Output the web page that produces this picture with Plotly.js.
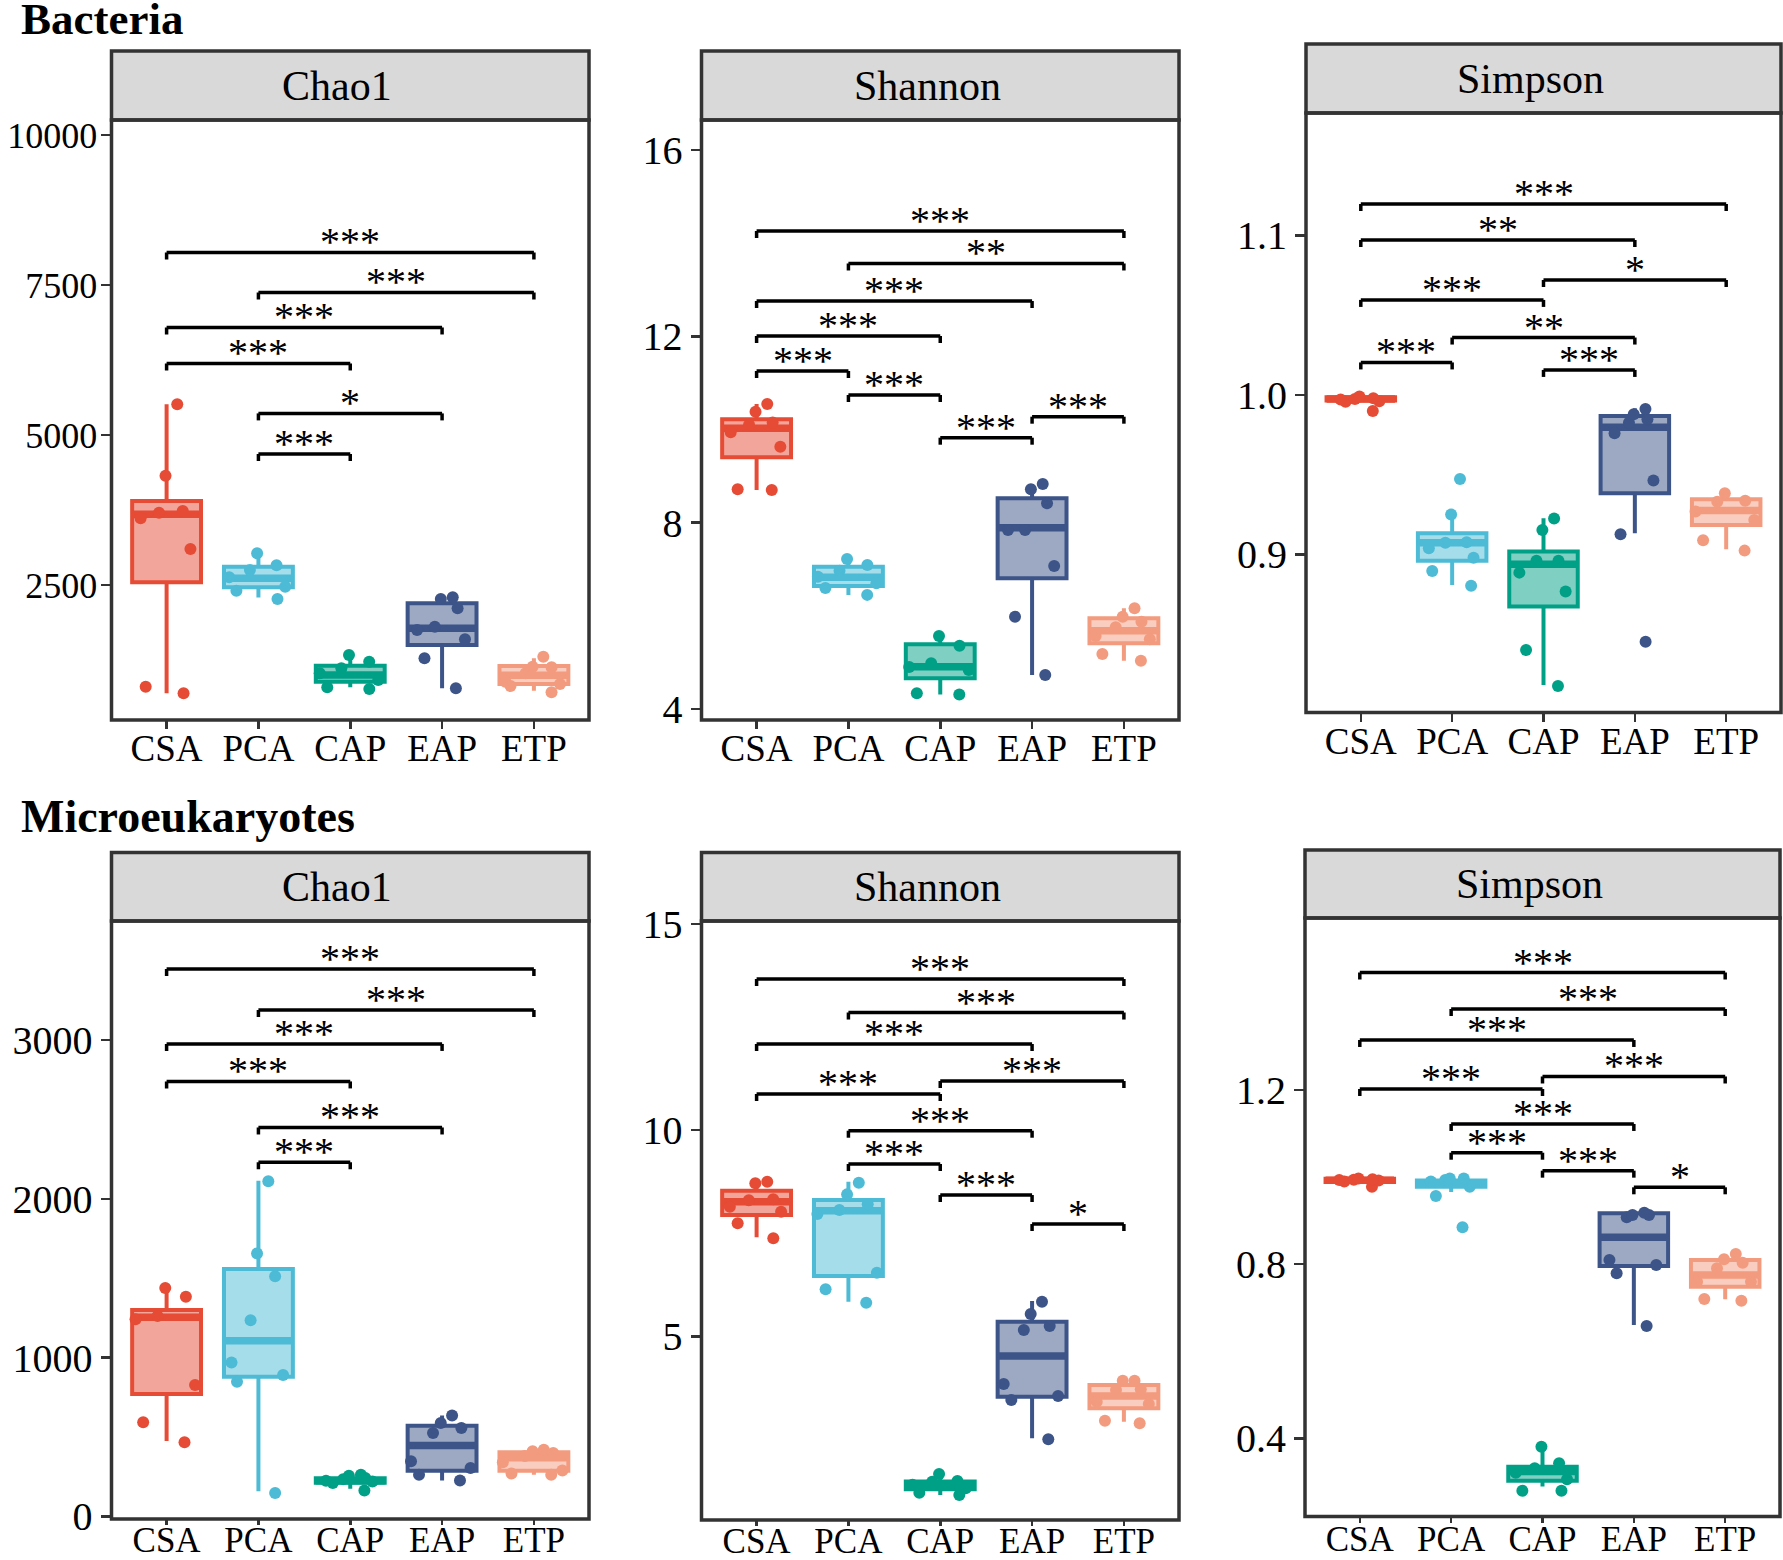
<!DOCTYPE html>
<html>
<head>
<meta charset="utf-8">
<script src="https://cdn.plot.ly/plotly-3.0.1.min.js"></script>
<style>html,body{margin:0;padding:0;background:#fff}</style>
</head>
<body>
<div id="chart" style="width:1783px;height:1560px"></div>
<script>
// ---------------- data ----------------
const groups = ['CSA', 'PCA', 'CAP', 'EAP', 'ETP'];
const groupColors = ['#E64B35', '#4DBBD5', '#00A087', '#3C5488', '#F39B7F'];

// Bacteria - Chao1 : sample points per group (CSA, PCA, CAP, EAP, ETP)
const bacChao1Points = [
  [5511, 4322, 3733, 3611, 3705, 3100, 806, 694],
  [3028, 2828, 2750, 2628, 2472, 2405, 2267],
  [1333, 1222, 1111, 1028, 917, 794, 767],
  [2294, 2267, 2111, 1806, 1750, 1594, 1278, 778],
  [1306, 1139, 1128, 1028, 889, 850, 817, 711]
];
// box statistics per group: [q1, median, q3, lower whisker, upper whisker]
const bacChao1Stats = [
  [2544, 3678, 3900, 694, 5511],
  [2461, 2611, 2805, 2290, 3028],
  [889, 1000, 1155, 795, 1333],
  [1500, 1778, 2194, 778, 2294],
  [850, 994, 1150, 739, 1278]
];
// significance brackets: [group A, group B, height, label]
const bacChao1Sig = [
  ['CSA', 'ETP', 8042, '***'],
  ['PCA', 'ETP', 7375, '***'],
  ['CSA', 'EAP', 6792, '***'],
  ['CSA', 'CAP', 6192, '***'],
  ['PCA', 'EAP', 5360, '*'],
  ['PCA', 'CAP', 4683, '***']
];

// Bacteria - Shannon
const bacShannonPoints = [
  [10.547, 10.382, 10.15, 10.10, 9.94, 9.63, 8.715, 8.70],
  [7.22, 7.09, 6.97, 6.84, 6.70, 6.60, 6.45],
  [5.567, 5.359, 4.98, 4.90, 4.837, 4.336, 4.31],
  [8.83, 8.715, 8.415, 7.842, 7.842, 7.07, 5.981, 4.73],
  [6.162, 5.981, 5.874, 5.754, 5.567, 5.496, 5.18, 5.037]
];
const bacShannonStats = [
  [9.403, 10.025, 10.219, 8.70, 10.547],
  [6.640, 6.827, 7.055, 6.45, 7.22],
  [4.659, 4.909, 5.388, 4.31, 5.567],
  [6.805, 7.892, 8.522, 4.73, 8.83],
  [5.41, 5.68, 5.947, 5.037, 6.162]
];
const bacShannonSig = [
  ['CSA', 'ETP', 14.261, '***'],
  ['PCA', 'ETP', 13.564, '**'],
  ['CSA', 'EAP', 12.758, '***'],
  ['CSA', 'CAP', 12.007, '***'],
  ['CSA', 'PCA', 11.256, '***'],
  ['PCA', 'CAP', 10.741, '***'],
  ['EAP', 'ETP', 10.275, '***'],
  ['CAP', 'EAP', 9.824, '***']
];

// Bacteria - Simpson
const bacSimpsonPoints = [
  [0.9960, 0.9972, 0.9958, 0.9990, 0.9980, 0.9900, 0.9975],
  [0.9473, 0.925, 0.9076, 0.9074, 0.9039, 0.898, 0.8896, 0.8804],
  [0.9225, 0.9154, 0.8961, 0.8961, 0.8886, 0.8767, 0.8401, 0.8175],
  [0.9912, 0.9879, 0.9848, 0.9826, 0.976, 0.9463, 0.9126, 0.8453],
  [0.9384, 0.9331, 0.9337, 0.9270, 0.9216, 0.9089, 0.9024]
];
const bacSimpsonStats = [
  [0.9965, 0.9975, 0.9985, 0.9955, 0.9992],
  [0.8961, 0.9074, 0.9133, 0.8809, 0.9254],
  [0.8673, 0.8938, 0.9018, 0.8182, 0.9227],
  [0.9384, 0.9797, 0.9868, 0.9133, 0.9916],
  [0.9185, 0.9275, 0.9346, 0.9033, 0.9387]
];
const bacSimpsonSig = [
  ['CSA', 'ETP', 1.1198, '***'],
  ['CSA', 'EAP', 1.0972, '**'],
  ['CAP', 'ETP', 1.0721, '*'],
  ['CSA', 'CAP', 1.0596, '***'],
  ['PCA', 'EAP', 1.0360, '**'],
  ['CSA', 'PCA', 1.0204, '***'],
  ['CAP', 'EAP', 1.0157, '***']
];

// Microeukaryotes - Chao1
const eukChao1Points = [
  [1439, 1384, 1262, 1241, 828, 593, 467],
  [2110, 1656, 1513, 1236, 970, 890, 848, 148],
  [263, 257, 242, 235, 225, 220, 211, 164],
  [635, 588, 557, 525, 347, 305, 263, 227],
  [420, 410, 399, 380, 341, 290, 270, 263]
];
const eukChao1Stats = [
  [771, 1254, 1300, 475, 1443],
  [880, 1107, 1558, 158, 2113],
  [212, 225, 240, 175, 263],
  [288, 446, 571, 227, 635],
  [288, 370, 404, 263, 420]
];
const eukChao1Sig = [
  ['CSA', 'ETP', 3447, '***'],
  ['PCA', 'ETP', 3189, '***'],
  ['CSA', 'EAP', 2975, '***'],
  ['CSA', 'CAP', 2739, '***'],
  ['PCA', 'EAP', 2449, '***'],
  ['PCA', 'CAP', 2230, '***']
];

// Microeukaryotes - Shannon
const eukShannonPoints = [
  [8.747, 8.707, 8.32, 8.30, 8.141, 8.02, 7.738, 7.374],
  [8.723, 8.44, 8.2, 8.06, 7.964, 6.541, 6.138, 5.814],
  [1.661, 1.49, 1.474, 1.40, 1.314, 1.207, 1.152],
  [5.838, 5.539, 5.248, 5.151, 3.842, 3.551, 3.454, 2.502],
  [3.923, 3.923, 3.714, 3.697, 3.414, 3.358, 2.953, 2.889]
];
const eukShannonStats = [
  [7.94, 8.262, 8.529, 7.399, 8.764],
  [6.461, 8.044, 8.303, 5.838, 8.747],
  [1.29, 1.40, 1.48, 1.15, 1.66],
  [3.535, 4.521, 5.353, 2.526, 5.855],
  [3.253, 3.551, 3.818, 2.929, 3.923]
];
const eukShannonSig = [
  ['CSA', 'ETP', 13.661, '***'],
  ['PCA', 'ETP', 12.848, '***'],
  ['CSA', 'EAP', 12.085, '***'],
  ['CAP', 'ETP', 11.188, '***'],
  ['CSA', 'CAP', 10.873, '***'],
  ['PCA', 'EAP', 9.983, '***'],
  ['PCA', 'CAP', 9.176, '***'],
  ['CAP', 'EAP', 8.424, '***'],
  ['EAP', 'ETP', 7.721, '*']
];

// Microeukaryotes - Simpson
const eukSimpsonPoints = [
  [0.997, 0.995, 0.994, 0.9934, 0.992, 0.990, 0.978],
  [0.997, 0.997, 0.9934, 0.990, 0.978, 0.9567, 0.8848],
  [0.381, 0.343, 0.3316, 0.3215, 0.3063, 0.280, 0.280],
  [0.9184, 0.913, 0.913, 0.9077, 0.8097, 0.7983, 0.7792, 0.6582],
  [0.8235, 0.8113, 0.8036, 0.7907, 0.76, 0.76, 0.7202, 0.7163]
];
const eukSimpsonStats = [
  [0.989, 0.993, 0.996, 0.985, 0.998],
  [0.978, 0.986, 0.992, 0.966, 0.998],
  [0.303, 0.324, 0.335, 0.290, 0.381],
  [0.7959, 0.8618, 0.917, 0.6606, 0.92],
  [0.7485, 0.7753, 0.8097, 0.7196, 0.8235]
];
const eukSimpsonSig = [
  ['CSA', 'ETP', 1.4697, '***'],
  ['PCA', 'ETP', 1.386, '***'],
  ['CSA', 'EAP', 1.3148, '***'],
  ['CAP', 'ETP', 1.231, '***'],
  ['CSA', 'CAP', 1.2023, '***'],
  ['PCA', 'EAP', 1.122, '***'],
  ['PCA', 'CAP', 1.056, '***'],
  ['CAP', 'EAP', 1.0148, '***'],
  ['EAP', 'ETP', 0.9766, '*']
];

const rowTitles = ['Bacteria', 'Microeukaryotes'];
const panelTitles = ['Chao1', 'Shannon', 'Simpson', 'Chao1', 'Shannon', 'Simpson'];

// ---------------- layout geometry (pixels) ----------------
const W = 1783, H = 1560;
const FONT = 'Liberation Serif, Times New Roman, serif';
const panels = [
  {pts: bacChao1Points, stats: bacChao1Stats, sig: bacChao1Sig, range: [250, 10250], dtick: 2500, fmt: 'd', px: [111.5, 589], py: [120, 720], strip: 69, yfs: 36, ystand: -4, xfs: 37, xlen: 8, xstand: -12},
  {pts: bacShannonPoints, stats: bacShannonStats, sig: bacShannonSig, range: [3.764, 16.644], dtick: 4, fmt: 'd', px: [701.5, 1179], py: [120, 720], strip: 69, yfs: 40, ystand: 0, xfs: 37, xlen: 8, xstand: -12},
  {pts: bacSimpsonPoints, stats: bacSimpsonStats, sig: bacSimpsonSig, range: [0.8009, 1.1768], dtick: 0.1, fmt: '.1f', px: [1306, 1781], py: [113, 712.5], strip: 69, yfs: 40, ystand: 0, xfs: 37, xlen: 8, xstand: -12},
  {pts: eukChao1Points, stats: eukChao1Stats, sig: eukChao1Sig, range: [-16, 3749], dtick: 1000, fmt: 'd', px: [111.5, 589], py: [921, 1519], strip: 68.5, yfs: 40, ystand: 0, xfs: 35, xlen: 5, xstand: -15},
  {pts: eukShannonPoints, stats: eukShannonStats, sig: eukShannonSig, range: [0.546, 15.067], dtick: 5, fmt: 'd', px: [701.5, 1179], py: [921, 1520], strip: 68.5, yfs: 40, ystand: 0, xfs: 35, xlen: 5, xstand: -15},
  {pts: eukSimpsonPoints, stats: eukSimpsonStats, sig: eukSimpsonSig, range: [0.2209, 1.5948], dtick: 0.4, fmt: '.1f', px: [1305, 1780], py: [918, 1516.5], strip: 68, yfs: 40, ystand: 0, xfs: 35, xlen: 5, xstand: -14}
];

function rgba(hex, a) {
  const n = parseInt(hex.slice(1), 16);
  return 'rgba(' + ((n >> 16) & 255) + ',' + ((n >> 8) & 255) + ',' + (n & 255) + ',' + a + ')';
}

const traces = [];
const shapes = [];
const annotations = [];
const layout = {
  width: W, height: H,
  margin: {l: 0, r: 0, t: 0, b: 0},
  paper_bgcolor: '#ffffff', plot_bgcolor: 'rgba(0,0,0,0)',
  showlegend: false, boxmode: 'overlay',
  font: {family: FONT, color: '#000'}
};

panels.forEach((p, k) => {
  const suf = k === 0 ? '' : String(k + 1);
  const xa = 'x' + suf, ya = 'y' + suf;
  const dx = [p.px[0] / W, p.px[1] / W];
  const dy = [1 - p.py[1] / H, 1 - p.py[0] / H];

  layout['xaxis' + suf] = {
    domain: dx, anchor: ya, range: [-0.6, 4.6],
    tickmode: 'array', tickvals: groups.map((g, i) => i), ticktext: groups,
    ticks: 'outside', ticklen: p.xlen, tickwidth: 2.5, tickcolor: '#333',
    ticklabelstandoff: p.xstand,
    showgrid: false, zeroline: false, showline: false, fixedrange: true,
    tickfont: {family: FONT, size: p.xfs, color: '#000'}
  };
  layout['yaxis' + suf] = {
    domain: dy, anchor: xa, range: p.range,
    tick0: 0, dtick: p.dtick, tickformat: p.fmt,
    ticks: 'outside', ticklen: 10, tickwidth: 2.5, tickcolor: '#333',
    ticklabelstandoff: p.ystand,
    showgrid: false, zeroline: false, showline: false, fixedrange: true,
    tickfont: {family: FONT, size: p.yfs, color: '#000'}
  };

  // boxes
  groups.forEach((g, i) => {
    const c = groupColors[i];
    const s = p.stats[i];
    traces.push({
      type: 'box', xaxis: xa, yaxis: ya, x: [i],
      q1: [s[0]], median: [s[1]], q3: [s[2]], lowerfence: [s[3]], upperfence: [s[4]],
      width: 0.75, whiskerwidth: 0, boxpoints: false,
      fillcolor: rgba(c, 0.5), line: {color: c, width: 4},
      hoverinfo: 'skip', showlegend: false
    });
    // thicker median bar
    traces.push({
      type: 'box', xaxis: xa, yaxis: ya, x: [i],
      q1: [s[1]], median: [s[1]], q3: [s[1]], lowerfence: [s[1]], upperfence: [s[1]],
      width: 0.75, whiskerwidth: 0, boxpoints: false,
      fillcolor: 'rgba(0,0,0,0)', line: {color: c, width: 7.5},
      hoverinfo: 'skip', showlegend: false
    });
  });
  // jittered points
  groups.forEach((g, i) => {
    const c = groupColors[i];
    traces.push({
      type: 'box', xaxis: xa, yaxis: ya, y: p.pts[i], x0: i,
      width: 0.8, boxpoints: 'all', jitter: 1, pointpos: 0, whiskerwidth: 0,
      fillcolor: 'rgba(0,0,0,0)', line: {color: 'rgba(0,0,0,0)', width: 0},
      marker: {color: c, size: 12, opacity: 1, line: {width: 0}},
      hoverinfo: 'skip', showlegend: false
    });
  });

  // significance brackets
  const span = p.range[1] - p.range[0];
  const tip = span * 7 / (p.py[1] - p.py[0]);
  p.sig.forEach(sg => {
    const a = groups.indexOf(sg[0]), b = groups.indexOf(sg[1]), y = sg[2];
    const ln = {color: '#000', width: 3.5};
    shapes.push({type: 'line', xref: xa, yref: ya, x0: a, x1: b, y0: y, y1: y, line: ln});
    shapes.push({type: 'line', xref: xa, yref: ya, x0: a, x1: a, y0: y, y1: y - tip, line: ln});
    shapes.push({type: 'line', xref: xa, yref: ya, x0: b, x1: b, y0: y, y1: y - tip, line: ln});
    annotations.push({
      xref: xa, yref: ya, x: (a + b) / 2, y: y, yanchor: 'bottom', xanchor: 'center',
      yshift: -14, text: sg[3], showarrow: false,
      font: {family: FONT, size: 40, color: '#000'}
    });
  });

  // frame and strip
  const stripTop = 1 - (p.py[0] - p.strip) / H;
  shapes.push({type: 'rect', xref: 'paper', yref: 'paper', x0: dx[0], x1: dx[1], y0: dy[1], y1: stripTop,
    fillcolor: '#D9D9D9', line: {color: '#333', width: 3.5}, layer: 'below'});
  shapes.push({type: 'rect', xref: 'paper', yref: 'paper', x0: dx[0], x1: dx[1], y0: dy[0], y1: dy[1],
    fillcolor: 'rgba(0,0,0,0)', line: {color: '#333', width: 3.5}, layer: 'above'});
  annotations.push({
    xref: 'paper', yref: 'paper', x: (dx[0] + dx[1]) / 2 - 13 / W, y: (dy[1] + stripTop) / 2,
    xanchor: 'center', yanchor: 'middle', text: panelTitles[k], showarrow: false,
    font: {family: FONT, size: 42, color: '#000'}
  });
});

// row titles
annotations.push({xref: 'paper', yref: 'paper', x: 19 / W, y: 1 - 19 / H, xanchor: 'left', yanchor: 'middle',
  text: '<b>' + rowTitles[0] + '</b>', showarrow: false, font: {family: FONT, size: 45, color: '#000'}});
annotations.push({xref: 'paper', yref: 'paper', x: 19 / W, y: 1 - 816 / H, xanchor: 'left', yanchor: 'middle',
  text: '<b>' + rowTitles[1] + '</b>', showarrow: false, font: {family: FONT, size: 46, color: '#000'}});

layout.shapes = shapes;
layout.annotations = annotations;

Plotly.newPlot('chart', traces, layout, {staticPlot: true, displayModeBar: false});
</script>
</body>
</html>
